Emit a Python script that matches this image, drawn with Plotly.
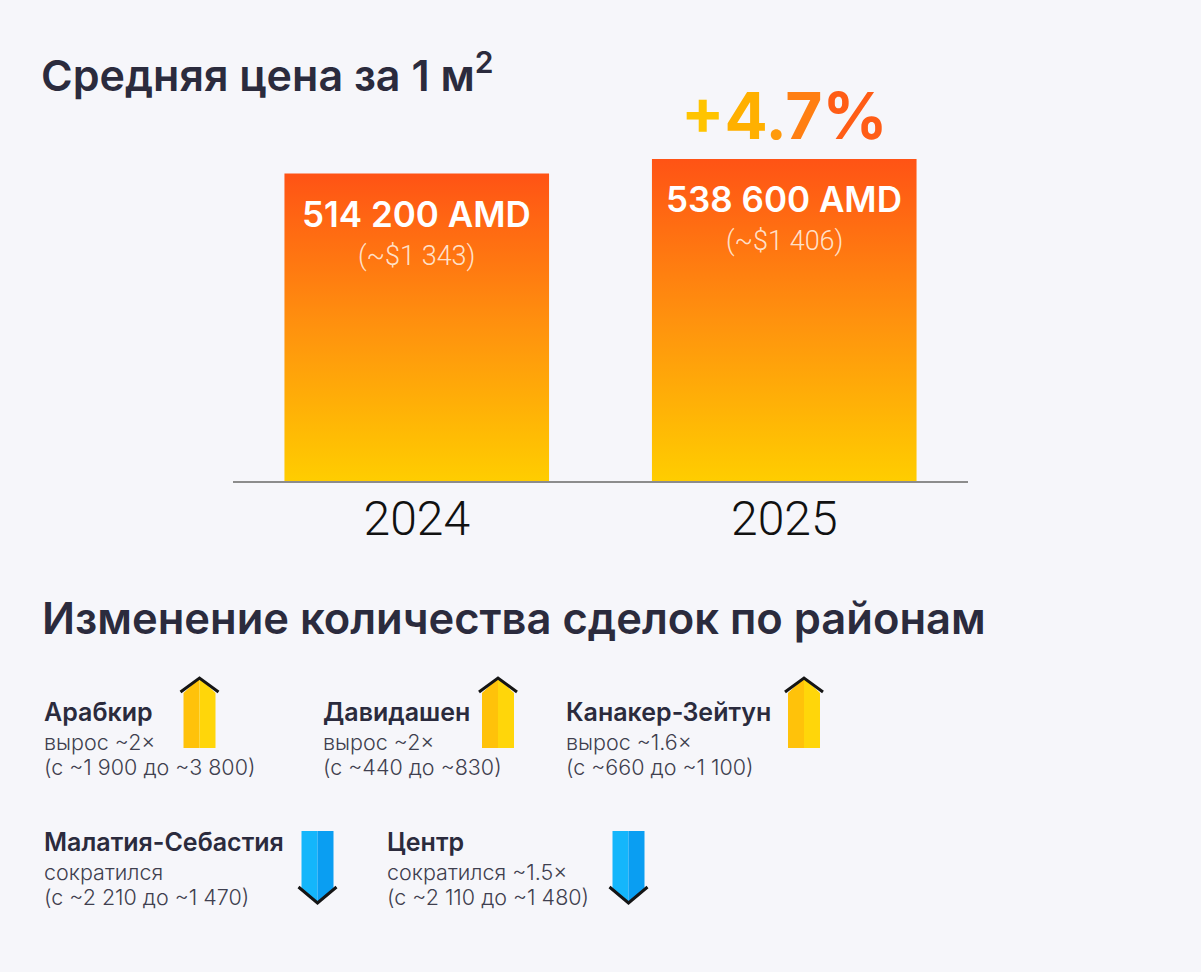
import plotly.graph_objects as go

W, H = 1201, 972

# ---------------- data ----------------
years = ["2024", "2025"]
price_amd = [514200, 538600]
price_amd_labels = ["514 200 AMD", "538 600 AMD"]
price_usd_labels = ["(~$1 343)", "(~$1 406)"]
growth_label = "+4.7%"

districts = ["Арабкир", "Давидашен", "Канакер-Зейтун", "Малатия-Себастия", "Центр"]
district_change = ["вырос ~2×", "вырос ~2×", "вырос ~1.6×", "сократился", "сократился ~1.5×"]
district_range = ["(с ~1 900 до ~3 800)", "(с ~440 до ~830)", "(с ~660 до ~1 100)",
                  "(с ~2 210 до ~1 470)", "(с ~2 110 до ~1 480)"]
district_dir = ["up", "up", "up", "down", "down"]

# ---------------- styles ----------------
BG = "#f6f6fa"
DARK = "#2b2b3d"
SUB = "#3f3f4f"
FONT_B = "Inter"
BAR_W = 0.72
GRAD = [[0.0, "#ffcd00"], [0.5, "#ff920e"], [1.0, "#ff5315"]]


def px(x):
    return x / W


def py(y):
    return 1 - y / H


fig = go.Figure()

for i, (yr, v) in enumerate(zip(years, price_amd)):
    x0, x1 = i - BAR_W / 2, i + BAR_W / 2
    fig.add_trace(go.Scatter(
        x=[x0, x1, x1, x0, x0], y=[0, 0, v, v, 0],
        mode="lines", line=dict(width=0), fill="toself",
        fillgradient=dict(type="vertical", colorscale=GRAD),
        hoverinfo="skip", showlegend=False))
    fig.add_annotation(x=i, y=v, xref="x", yref="y", yshift=-40, yanchor="middle",
                       text=price_amd_labels[i], showarrow=False,
                       font=dict(family=FONT_B, size=35, color="white", weight=600))
    fig.add_annotation(x=i, y=v, xref="x", yref="y", yshift=-82, yanchor="middle",
                       text=price_usd_labels[i], showarrow=False,
                       font=dict(family="Roboto", size=27, color="rgba(255,240,225,0.9)", weight=300))

# growth label with gradient-like colouring
g_cols = ["#ffc400", "#ffb000", "#ff9a0c", "#ff7f12", "#ff5d16"]
g_text = "".join(f"<span style='color:{c}'>{ch}</span>" for ch, c in zip(growth_label, g_cols))
fig.add_annotation(x=1, y=price_amd[1], xref="x", yref="y", yshift=43, yanchor="middle",
                   text=g_text, showarrow=False,
                   font=dict(family=FONT_B, size=64, color="#ff8a10", weight=700))

# titles
fig.add_annotation(x=px(39), y=py(72), xref="paper", yref="paper", xanchor="left", yanchor="middle",
                   text="Средняя цена за 1 м<sup>2</sup>", showarrow=False,
                   font=dict(family=FONT_B, size=43, color=DARK, weight=600))
fig.add_annotation(x=px(40), y=py(618), xref="paper", yref="paper", xanchor="left", yanchor="middle",
                   text="Изменение количества сделок по районам", showarrow=False,
                   font=dict(family=FONT_B, size=43.5, color=DARK, weight=600))

# district blocks (layout positions)
text_x = [42, 321, 564, 42, 385]
name_y = [712, 712, 712, 842, 842]
arrow_x = [199.5, 498, 804, 317.5, 628.5]

for k in range(len(districts)):
    tx, ny = text_x[k], name_y[k]
    fig.add_annotation(x=px(tx), y=py(ny), xref="paper", yref="paper", xanchor="left", yanchor="middle",
                       text=districts[k], showarrow=False,
                       font=dict(family=FONT_B, size=25, color=DARK, weight=600))
    fig.add_annotation(x=px(tx), y=py(ny + 30), xref="paper", yref="paper", xanchor="left", yanchor="middle",
                       text=district_change[k], showarrow=False,
                       font=dict(family=FONT_B, size=21.5, color=SUB, weight=300))
    fig.add_annotation(x=px(tx), y=py(ny + 55), xref="paper", yref="paper", xanchor="left", yanchor="middle",
                       text=district_range[k], showarrow=False,
                       font=dict(family=FONT_B, size=21.5, color=SUB, weight=300))

    ax = arrow_x[k]
    hw = 16
    if district_dir[k] == "up":
        top, shoulder, bot = 678, 693, 748
        cl, cr = "#ffc20a", "#ffd60a"
        left = f"M{px(ax-hw)},{py(bot)} L{px(ax-hw)},{py(shoulder)} L{px(ax)},{py(top)} L{px(ax)},{py(bot)} Z"
        right = f"M{px(ax)},{py(bot)} L{px(ax)},{py(top)} L{px(ax+hw)},{py(shoulder)} L{px(ax+hw)},{py(bot)} Z"
        chev = f"M{px(ax-19)},{py(692)} L{px(ax)},{py(top)} L{px(ax+19)},{py(692)}"
    else:
        top, shoulder, bot = 831, 888, 903
        cl, cr = "#14b6fb", "#0a9ef2"
        left = f"M{px(ax-hw)},{py(top)} L{px(ax-hw)},{py(shoulder)} L{px(ax)},{py(bot)} L{px(ax)},{py(top)} Z"
        right = f"M{px(ax)},{py(top)} L{px(ax)},{py(bot)} L{px(ax+hw)},{py(shoulder)} L{px(ax+hw)},{py(top)} Z"
        chev = f"M{px(ax-19)},{py(887)} L{px(ax)},{py(bot)} L{px(ax+19)},{py(887)}"
    fig.add_shape(type="path", path=left, xref="paper", yref="paper", fillcolor=cl, line=dict(width=0))
    fig.add_shape(type="path", path=right, xref="paper", yref="paper", fillcolor=cr, line=dict(width=0))
    fig.add_shape(type="path", path=chev, xref="paper", yref="paper", line=dict(color="#151515", width=3))

# axes
y_top = price_amd[1] * (481 - 100) / (481 - 159)
fig.update_xaxes(domain=[px(233), px(968)], range=[-0.5, 1.5],
                 tickvals=list(range(len(years))), ticktext=years,
                 showgrid=False, zeroline=False, showline=True, linecolor="#8c8c8c", linewidth=2,
                 ticks="", ticklabelstandoff=-6,
                 tickfont=dict(family="Roboto", size=48, color="#111111", weight=300),
                 fixedrange=True)
fig.update_yaxes(domain=[py(481), py(100)], range=[0, y_top], visible=False, fixedrange=True)

fig.update_layout(width=W, height=H, margin=dict(l=0, r=0, t=0, b=0),
                  paper_bgcolor=BG, plot_bgcolor=BG, showlegend=False)

fig.write_html("out.html", config={"displayModeBar": False},
               post_script="document.body.style.margin='0';document.body.style.background='%s';" % BG)
